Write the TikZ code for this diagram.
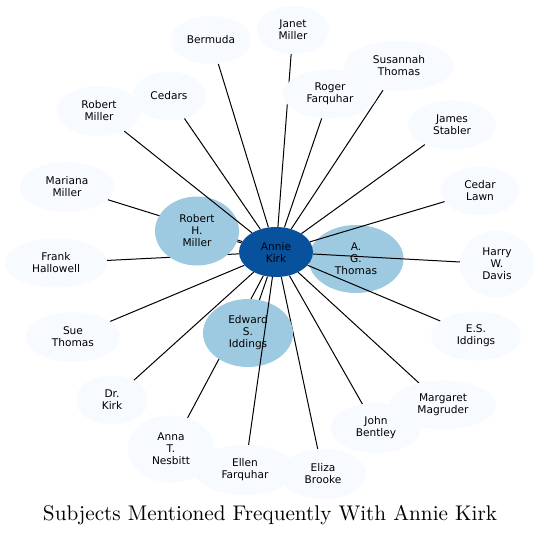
\documentclass[tikz,border=0pt]{standalone}
\usepackage{fontspec}
\newfontfamily\nodefont{DejaVu Sans}
\newfontfamily\titlefont{lmroman10-regular.otf}
\usetikzlibrary{shapes.geometric}
\definecolor{lightn}{HTML}{F7FBFF}
\definecolor{midn}{HTML}{9ECAE1}
\definecolor{darkn}{HTML}{08519C}
\pgfdeclarelayer{canvas}
\pgfdeclarelayer{background}
\pgfsetlayers{canvas,background,main}
\begin{document}
\begin{tikzpicture}[x=1pt,y=-1pt,
  subj/.style={ellipse, inner sep=0pt, draw=none, fill=lightn, text=black,
    font=\nodefont\fontsize{10.6}{12}\selectfont, align=center},
  mid/.style={subj, fill=midn},
  hub/.style={subj, fill=darkn},
  sz/.style 2 args={minimum width=#1pt, minimum height=#2pt},
  link/.style={draw=black, line width=1pt}]
\begin{pgfonlayer}{canvas}
\fill[white] (0,0) rectangle (540,535);
\end{pgfonlayer}
\useasboundingbox (0,0) rectangle (540,535);
% outer subjects
\node[subj, sz={80}{48}] (bermuda) at (211,40) {Bermuda};
\node[subj, sz={72}{48}] (janet) at (293,30) {Janet\\Miller};
\node[subj, sz={94}{49}] (roger) at (330,94) {Roger\\Farquhar};
\node[subj, sz={110}{50}] (susannah) at (399,66) {Susannah\\Thomas};
\node[subj, sz={88}{49}] (james) at (452,125) {James\\Stabler};
\node[subj, sz={78}{49}] (cedarlawn) at (480,191) {Cedar\\Lawn};
\node[subj, sz={74}{66}] (harry) at (497,264) {Harry\\W.\\Davis};
\node[subj, sz={90}{49}] (esiddings) at (476,336) {E.S.\\Iddings};
\node[subj, sz={90}{50}] (john) at (376,428) {John\\Bentley};
\node[subj, sz={106}{49}] (margaret) at (443,405) {Margaret\\Magruder};
\node[subj, sz={86}{50}] (eliza) at (323,474) {Eliza\\Brooke};
\node[subj, sz={87}{67}] (anna) at (171,449) {Anna\\T.\\Nesbitt};
\node[subj, sz={102}{50}] (ellen) at (245,470) {Ellen\\Farquhar};
\node[subj, sz={72}{49}] (drkirk) at (112,400) {Dr.\\Kirk};
\node[subj, sz={94}{50}] (sue) at (73,337) {Sue\\Thomas};
\node[subj, sz={102}{49}] (frank) at (56,263) {Frank\\Hallowell};
\node[subj, sz={94}{50}] (mariana) at (67,187) {Mariana\\Miller};
\node[subj, sz={84}{50}] (robertm) at (99,111) {Robert\\Miller};
\node[subj, sz={73}{49}] (cedars) at (169,96) {Cedars};
% frequent subjects
\node[mid, sz={84}{69}] (robh) at (197,231) {Robert\\H.\\Miller};
\node[mid, sz={95}{68}] (ag) at (356,259) {A.\\G.\\Thomas};
\node[mid, sz={90}{68}] (edward) at (248,333) {Edward\\S.\\Iddings};
\node[hub, sz={74}{50}] (annie) at (276,252) {Annie\\Kirk};
% connectors hidden under other nodes
\begin{pgfonlayer}{background}
\foreach \t in {bermuda,janet,roger,susannah,james,margaret,john,eliza,anna,drkirk,sue,frank,mariana,cedars,robh,ag,edward}
  \draw[link] (annie) -- (\t);
\end{pgfonlayer}
% connectors drawn over other nodes
\foreach \t in {cedarlawn,harry,esiddings,ellen,robertm}
  \draw[link] (annie) -- (\t);
% title
\node[anchor=base, font=\titlefont\fontsize{21.2}{25}\selectfont] (title) at (270,520) {Subjects Mentioned Frequently With Annie Kirk};
\end{tikzpicture}
\end{document}
